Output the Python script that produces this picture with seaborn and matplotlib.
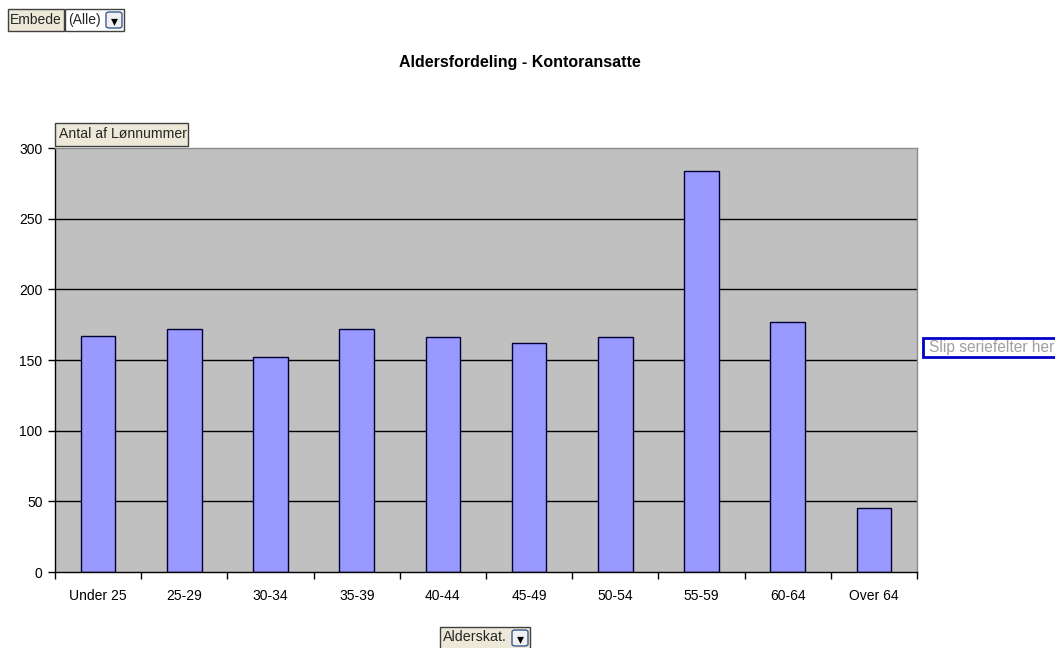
import matplotlib
matplotlib.use("Agg")
import matplotlib.pyplot as plt
from matplotlib.patches import Rectangle, FancyBboxPatch
import numpy as np
import pandas as pd
import seaborn as sns

# data
alderskat = ["Under 25", "25-29", "30-34", "35-39", "40-44",
             "45-49", "50-54", "55-59", "60-64", "Over 64"]
antal = [167, 172, 152, 172, 166, 162, 166, 284, 177, 45]
y_ticks = [0, 50, 100, 150, 200, 250, 300]

df = pd.DataFrame({"Alderskat.": alderskat, "Antal": antal})

sns.set_theme(style="white")
plt.rcParams["font.family"] = ["Liberation Sans", "DejaVu Sans"]

W, H = 1055, 648
fig = plt.figure(figsize=(W / 100, H / 100), dpi=100)
ax = fig.add_axes([55 / W, 1 - 572 / H, 862 / W, 424 / H])


def px_box(x0, y0, x1, y1, **kw):
    # rectangle in figure pixel coords (origin top-left)
    r = Rectangle((x0 / W, 1 - y1 / H), (x1 - x0) / W, (y1 - y0) / H,
                  transform=fig.transFigure, **kw)
    fig.add_artist(r)
    return r


def px_text(x, y, s, **kw):
    fig.text(x / W, 1 - y / H, s, **kw)


def dropdown(x0, y0, size=16):
    r = FancyBboxPatch((x0 / W, 1 - (y0 + size) / H), size / W, size / H,
                       boxstyle="round,pad=0,rounding_size=0.003",
                       transform=fig.transFigure, facecolor="#f0f0f0",
                       edgecolor="#3c5a8c", linewidth=1.0)
    fig.add_artist(r)
    fig.text((x0 + size / 2) / W, 1 - (y0 + size / 2 + 1) / H, "▾",
             ha="center", va="center", fontsize=10, color="black",
             family=["DejaVu Sans"])


ax.set_facecolor("#c0c0c0")
sns.barplot(data=df, x="Alderskat.", y="Antal", ax=ax, width=0.4,
            color="#9999ff", edgecolor="#000033", linewidth=1.0,
            saturation=1)

ax.set_xlim(-0.5, len(alderskat) - 0.5)
ax.set_ylim(0, 300)
ax.set_yticks(y_ticks)
for v in y_ticks[1:-1]:
    ax.axhline(v, color="black", linewidth=1.0, zorder=0.5)

ax.set_xticks(np.arange(-0.5, len(alderskat)), minor=True)
ax.tick_params(axis="x", which="major", length=0, pad=12, labelsize=10,
               colors="black")
ax.tick_params(axis="x", which="minor", length=5, width=1, color="black",
               direction="out", bottom=True)
ax.tick_params(axis="y", length=5, width=1, direction="out", left=True,
               pad=4, labelsize=10, colors="black")
ax.set_xlabel("")
ax.set_ylabel("")

for side in ["left", "bottom"]:
    ax.spines[side].set_color("black")
    ax.spines[side].set_linewidth(1.0)
for side in ["top", "right"]:
    ax.spines[side].set_color("#8c8c8c")
    ax.spines[side].set_linewidth(1.0)

# title
px_text(520, 63, "Aldersfordeling - Kontoransatte", ha="center", va="center",
        fontsize=11.5, fontweight="bold", color="black")

# pivot field buttons
px_box(8, 9, 64, 31, facecolor="#ece9d8", edgecolor="#404040", linewidth=1.0)
px_text(36, 20, "Embede", ha="center", va="center", fontsize=10)
px_box(65, 9, 124, 31, facecolor="white", edgecolor="#404040", linewidth=1.0)
px_text(68, 20, "(Alle)", ha="left", va="center", fontsize=10)
dropdown(106, 12)

px_box(55, 123, 188, 146, facecolor="#ece9d8", edgecolor="#404040",
       linewidth=1.0)
px_text(59, 134, "Antal af Lønnummer", ha="left", va="center", fontsize=10.1)

px_box(440, 627, 530, 650, facecolor="#ece9d8", edgecolor="#404040",
       linewidth=1.0)
px_text(443, 637, "Alderskat.", ha="left", va="center", fontsize=10.3)
dropdown(512, 630)

px_box(923, 338, 1060, 357, facecolor="white", edgecolor="#0000cc",
       linewidth=2.0)
px_text(929, 347, "Slip seriefelter her", ha="left", va="center",
        fontsize=11.2, color="#a0a0a0")

fig.savefig("out.png", dpi=100, facecolor="white")
